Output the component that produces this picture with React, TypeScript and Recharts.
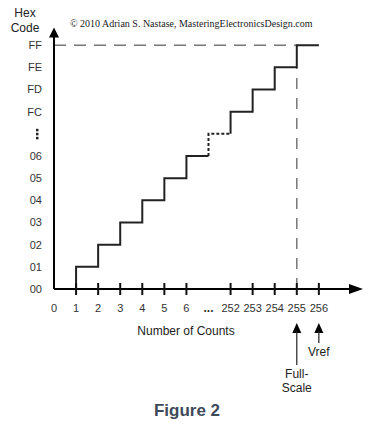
import React from "react";
import { ComposedChart, Line, XAxis, YAxis, ReferenceLine, ReferenceDot } from "recharts";

const xTickValues = [0, 1, 2, 3, 4, 5, 6, 7, 8, 9, 10, 11, 12];
const xTickLabels = ["0", "1", "2", "3", "4", "5", "6", "...", "252", "253", "254", "255", "256"];
const xMarkValues = [1, 2, 3, 4, 5, 6, 8, 9, 10, 11, 12];
const yTickValues = [0, 1, 2, 3, 4, 5, 6, 7, 8, 9, 10, 11];
const yTickLabels = ["00", "01", "02", "03", "04", "05", "06", ":", "FC", "FD", "FE", "FF"];

const stepLow = [
  { x: 1, y: 0 },
  { x: 2, y: 1 },
  { x: 3, y: 2 },
  { x: 4, y: 3 },
  { x: 5, y: 4 },
  { x: 6, y: 5 },
  { x: 7, y: 6 },
];
const stepGap = [
  { x: 7, y: 6 },
  { x: 8, y: 7 },
];
const stepHigh = [
  { x: 8, y: 7 },
  { x: 9, y: 8 },
  { x: 10, y: 9 },
  { x: 11, y: 10 },
  { x: 12, y: 11 },
];
const fullScaleIndex = 11;
const fullScaleCode = 11;
const markers = [
  { x: 11, lines: ["Full-", "Scale"], len: 42 },
  { x: 12, lines: ["Vref"], len: 20 },
];
const xAxisEnd = 13.5;
const xArrowTip = 14;
const yAxisEnd = 11.5;
const yArrowTip = 11.8;

const FONT = "'Liberation Sans', Arial, sans-serif";

const XTick = (props: any) => {
  const { x, y, payload } = props;
  const i = xTickValues.indexOf(payload.value);
  const label = xTickLabels[i];
  const isGap = label === "...";
  return (
    <text
      x={x}
      y={y + 23}
      textAnchor="middle"
      fontFamily={FONT}
      fontSize={isGap ? 12 : 11}
      fontWeight={isGap ? "bold" : "normal"}
      fill="#333"
    >
      {label}
    </text>
  );
};

const YTick = (props: any) => {
  const { x, y, payload } = props;
  const i = yTickValues.indexOf(payload.value);
  const label = yTickLabels[i];
  if (label === ":") {
    return (
      <g fill="#222">
        <rect x={x - 18} y={y - 5} width={2.5} height={2.5} />
        <rect x={x - 18} y={y - 1} width={2.5} height={2.5} />
        <rect x={x - 18} y={y + 3} width={2.5} height={2.5} />
      </g>
    );
  }
  return (
    <text x={x - 12} y={y} dy="0.35em" textAnchor="end" fontFamily={FONT} fontSize={11} fill="#333">
      {label}
    </text>
  );
};

const TickMark = (props: any) => {
  const { cx, cy } = props;
  return <line x1={cx} y1={cy - 6} x2={cx} y2={cy + 6} stroke="#111" strokeWidth={2} />;
};

const XArrowHead = (props: any) => {
  const { cx, cy } = props;
  return <polygon points={`${cx},${cy} ${cx - 14},${cy - 5} ${cx - 14},${cy + 5}`} fill="#000" />;
};

const YArrowHead = (props: any) => {
  const { cx, cy } = props;
  return <polygon points={`${cx},${cy} ${cx - 5},${cy + 10} ${cx + 5},${cy + 10}`} fill="#000" />;
};

const makeMarker = (lines: string[], len: number) => (props: any) => {
  const { cx, cy } = props;
  const top = cy + 34;
  const bottom = top + len;
  return (
    <g>
      <polygon points={`${cx},${top} ${cx - 4.5},${top + 10} ${cx + 4.5},${top + 10}`} fill="#000" />
      <line x1={cx} y1={top + 8} x2={cx} y2={bottom} stroke="#222" strokeWidth={1.2} />
      {lines.map((t: string, k: number) => (
        <text key={k} x={cx} y={bottom + 13 + k * 14} textAnchor="middle" fontFamily={FONT} fontSize={12} fill="#222">
          {t}
        </text>
      ))}
    </g>
  );
};

export default function App() {
  return (
    <div style={{ position: "absolute", left: 0, top: 0, width: 369, height: 432, background: "#fff" }}>
      <ComposedChart width={369} height={432} margin={{ top: 23, right: 6, bottom: 113, left: 0 }}>
        <XAxis
          type="number"
          dataKey="x"
          domain={[0, 14]}
          ticks={xTickValues}
          interval={0}
          allowDataOverflow
          axisLine={false}
          tickLine={false}
          tickSize={0}
          tickMargin={0}
          height={30}
          tick={XTick}
        />
        <YAxis
          type="number"
          dataKey="y"
          domain={[0, 12]}
          ticks={yTickValues}
          interval={0}
          allowDataOverflow
          axisLine={false}
          tickLine={false}
          tickSize={0}
          tickMargin={0}
          width={54}
          tick={YTick}
        />
        <ReferenceLine
          segment={[
            { x: 0, y: fullScaleCode },
            { x: fullScaleIndex, y: fullScaleCode },
          ]}
          stroke="#777"
          strokeWidth={1.5}
          strokeDasharray="12 8"
          ifOverflow="visible"
        />
        <ReferenceLine
          segment={[
            { x: fullScaleIndex, y: 0 },
            { x: fullScaleIndex, y: fullScaleCode - 1 },
          ]}
          stroke="#777"
          strokeWidth={1.5}
          strokeDasharray="11 9"
          ifOverflow="visible"
        />
        <ReferenceLine
          segment={[
            { x: 0, y: 0 },
            { x: xAxisEnd, y: 0 },
          ]}
          stroke="#000"
          strokeWidth={2}
          ifOverflow="visible"
        />
        <ReferenceLine
          segment={[
            { x: 0, y: 0 },
            { x: 0, y: yAxisEnd },
          ]}
          stroke="#000"
          strokeWidth={2}
          ifOverflow="visible"
        />
        <Line data={stepLow} dataKey="y" type="stepBefore" stroke="#222" strokeWidth={2} dot={false} isAnimationActive={false} />
        <Line
          data={stepGap}
          dataKey="y"
          type="stepBefore"
          stroke="#222"
          strokeWidth={2}
          strokeDasharray="3 2"
          dot={false}
          isAnimationActive={false}
        />
        <Line data={stepHigh} dataKey="y" type="stepBefore" stroke="#222" strokeWidth={2} dot={false} isAnimationActive={false} />
        {xMarkValues.map((v) => (
          <ReferenceDot key={`t${v}`} x={v} y={0} r={6} ifOverflow="visible" shape={TickMark} />
        ))}
        <ReferenceDot x={xArrowTip} y={0} r={6} ifOverflow="visible" shape={XArrowHead} />
        <ReferenceDot x={0} y={yArrowTip} r={6} ifOverflow="visible" shape={YArrowHead} />
        {markers.map((m) => (
          <ReferenceDot key={`m${m.x}`} x={m.x} y={0} r={6} ifOverflow="visible" shape={makeMarker(m.lines, m.len)} />
        ))}
      </ComposedChart>
      <div
        style={{
          position: "absolute",
          left: 0,
          top: 6,
          width: 50,
          textAlign: "center",
          fontFamily: FONT,
          fontSize: 12,
          lineHeight: "15px",
          color: "#222",
        }}
      >
        Hex
        <br />
        Code
      </div>
      <div
        style={{
          position: "absolute",
          left: 70,
          top: 17,
          fontFamily: "'Liberation Serif', 'Times New Roman', serif",
          fontSize: 10,
          lineHeight: "14px",
          color: "#222",
          whiteSpace: "nowrap",
        }}
      >
        © 2010 Adrian S. Nastase, MasteringElectronicsDesign.com
      </div>
      <div
        style={{
          position: "absolute",
          left: 106,
          width: 160,
          top: 323,
          textAlign: "center",
          fontFamily: FONT,
          fontSize: 12,
          lineHeight: "16px",
          color: "#222",
        }}
      >
        Number of Counts
      </div>
      <div
        style={{
          position: "absolute",
          left: 107,
          width: 160,
          top: 400,
          textAlign: "center",
          fontFamily: FONT,
          fontSize: 17,
          fontWeight: "bold",
          lineHeight: "22px",
          color: "#3d4a5a",
        }}
      >
        Figure 2
      </div>
    </div>
  );
}
